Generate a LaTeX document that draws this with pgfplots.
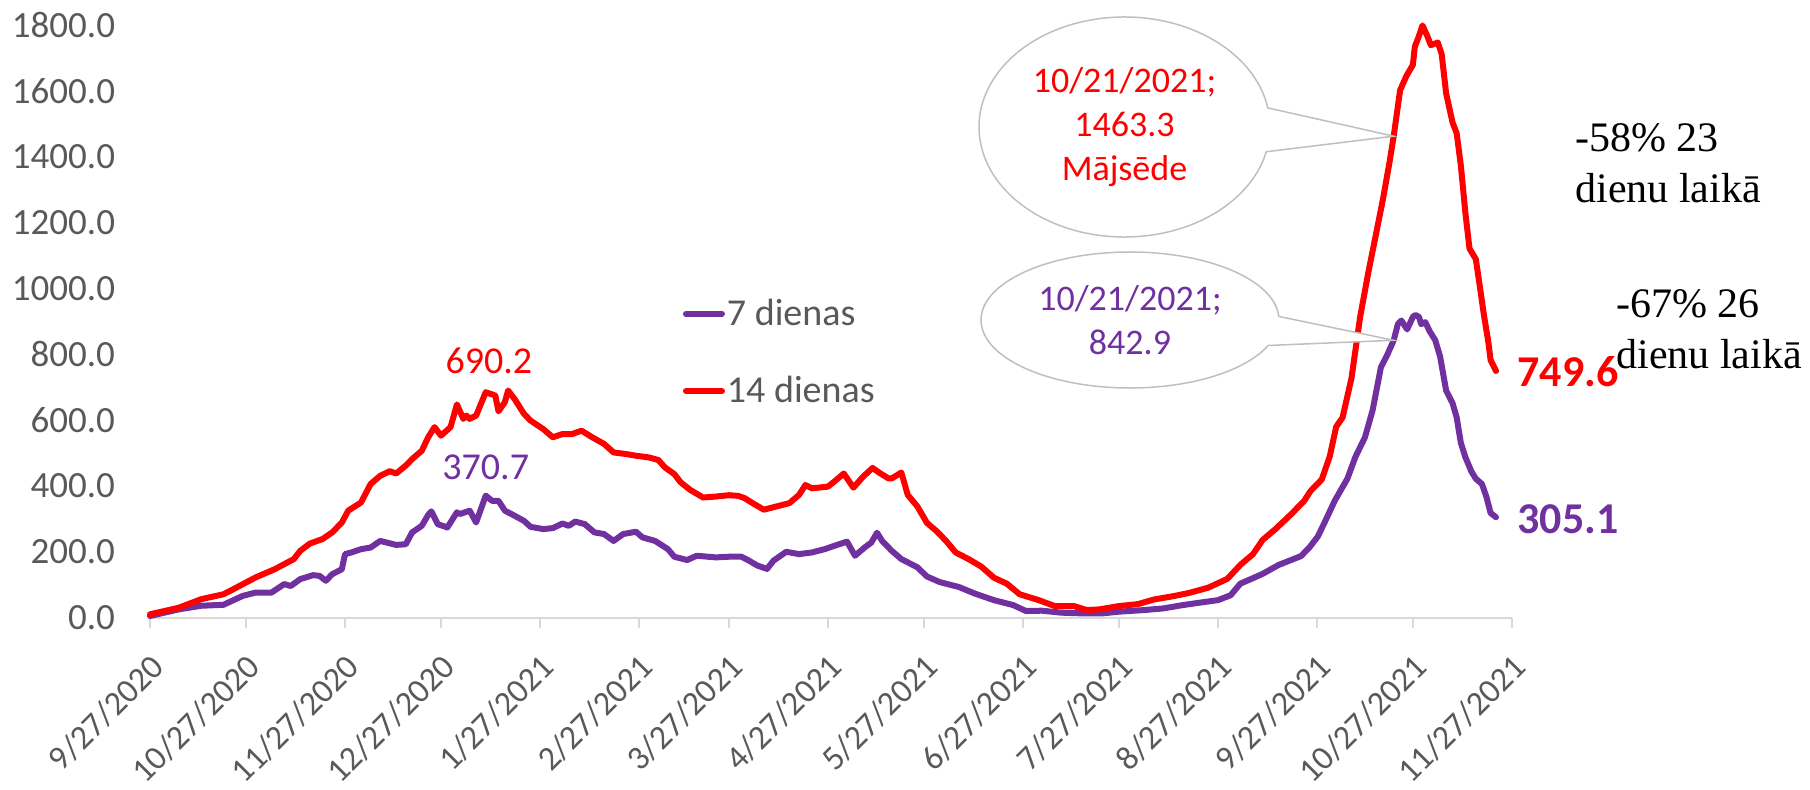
\documentclass[border=0pt]{standalone}
\usepackage{pgfplots}
\pgfplotsset{compat=1.18}
\usepackage{fontspec}
\setmainfont{Carlito}
\newfontfamily\tnr{Liberation Serif}
\definecolor{cred}{RGB}{255,0,0}
\definecolor{cpurp}{RGB}{112,48,160}
\definecolor{tickgray}{RGB}{89,89,89}
\definecolor{axgray}{RGB}{217,217,217}
\definecolor{callgray}{RGB}{191,191,191}
\begin{document}
\begin{tikzpicture}
\path[use as bounding box] (0,0) rectangle (905pt,394.5pt);
\begin{axis}[
  at={(75pt,85.7pt)}, anchor=south west,
  scale only axis, width=681pt, height=296.1pt,
  xmin=0, xmax=426, ymin=0, ymax=1800,
  clip=false,
  separate axis lines,
  axis x line*=bottom,
  axis y line*=left,
  y axis line style={draw=none},
  x axis line style={draw=axgray, line width=0.9pt},
  xtick={0,30,61,91,122,153,181,212,242,273,303,334,365,395,426},
  xticklabels={9/27/2020,10/27/2020,11/27/2020,12/27/2020,1/27/2021,2/27/2021,3/27/2021,4/27/2021,5/27/2021,6/27/2021,7/27/2021,8/27/2021,9/27/2021,10/27/2021,11/27/2021},
  ytick={0,200,...,1800},
  scaled y ticks=false,
  ytick style={draw=none},
  xtick style={draw=axgray, line width=0.9pt},
  xtick align=outside,
  major tick length=5pt,
  tick label style={text=tickgray},
  yticklabel style={font=\fontsize{18.5}{20}\selectfont, anchor=east, inner sep=0pt, xshift=-17.3pt,
    /pgf/number format/fixed, /pgf/number format/fixed zerofill,
    /pgf/number format/precision=1, /pgf/number format/1000 sep={},
    /pgf/number format/assume math mode=true},
  xticklabel style={font=\fontsize{17}{18}\selectfont, rotate=45, anchor=north east, inner sep=0pt, xshift=-8.8pt, yshift=-8.2pt},
  legend cell align=left,
  legend style={at={(0.391,0.4477)}, anchor=west, draw=none, fill=none, inner sep=0pt,
    font=\fontsize{19}{20}\selectfont, text=tickgray, row sep=22pt, nodes={inner sep=1pt}},
  legend image code/.code={\draw[#1, line width=3pt, line cap=round] (0pt,0pt) -- (18pt,0pt);},
]
\addplot[cpurp, line width=3pt, line join=round, line cap=round] coordinates {
(0,5)(9,25)(16,36)(23,39)(29,66)(33,76)(38,76)(42,102)(44,96)(47,117)(51,129)(53,127)(55,112)(57,132)(60,147)(61,193)(63,198)(66,208)(69,213)(72,233)(77,221)(80,223)(82,259)(85,279)(87,312)(88,323)(90,284)(93,274)(96,320)(97,315)(100,325)(102,289)(105,370.7)(107,355)(109,355)(111,325)(113,315)(117,294)(119,276)(123,269)(126,272)(129,286)(131,279)(133,292)(136,284)(139,259)(142,254)(145,233)(148,254)(152,261)(154,244)(158,233)(162,208)(164,185)(168,175)(171,188)(177,183)(181,185)(185,185)(187,175)(190,158)(193,148)(195,173)(199,200)(203,193)(207,198)(211,208)(214,218)(218,231)(220.5,188)(223.5,213)(225.6,228)(227.4,258)(229,233)(232,203)(235,178)(240,153)(243,125)(247,108)(253,93)(258,73)(264,53)(270,38)(274,20)(279,21)(285,15)(291,13)(298,13)(303,18)(311,23)(317,28)(323,38)(328,45)(334,53)(338,68)(341,103)(345,120)(348,133)(353,160)(360,187)(362.7,214)(365.3,247)(368,302)(370.6,356)(374.5,422)(377,488)(380,548)(382.4,630)(385,761)(387,799)(389,842.9)(390.3,892)(391.4,903)(393.2,876)(395,914)(395.8,920)(396.9,914)(397.6,892)(398.9,898)(400.2,871)(402,843)(403.5,794)(405.4,690)(407.4,652)(408.7,608)(410,531)(411.4,488)(413.3,444)(414.7,422)(416.6,406)(418,367)(419.3,318)(421,305.1)
};
\addlegendentry{7 dienas}
\addplot[cred, line width=3pt, line join=round, line cap=round] coordinates {
(0,10)(9,30)(16,56)(23,71)(26,86)(33,122)(39,147)(45,178)(47,203)(50,225)(54,239)(57,259)(60,289)(62,325)(66,350)(69,406)(72,431)(75,445)(77,438)(80,462)(82,482)(85,507)(87,548)(89,579)(91,553)(94,579)(96,648)(98,604)(99,614)(100,604)(102,614)(105,685)(108,675)(109,627)(111,655)(112,690.2)(114,665)(117,619)(119,599)(123,573)(126,548)(129,558)(132,558)(135,568)(138,550)(142,528)(145,502)(149,497)(152,492)(156,487)(159,479)(161,457)(164,436)(166,411)(169,388)(173,365)(177,368)(181,372)(184,370)(186,363)(189,345)(192,328)(196,338)(200,348)(203,373)(205,403)(207,393)(212,398)(214,413)(217,438)(220,395)(223,428)(226,455)(228,441)(231,423)(232,423)(235,441)(237,373)(240,338)(243,288)(246,263)(249,233)(252,198)(256,178)(260,155)(264,121)(268,103)(272,71)(278,53)(283,35)(289,35)(293,23)(297,25)(303,35)(309,41)(314,55)(320,65)(325,75)(331,91)(337,118)(341,160)(345,193)(348,236)(352,269)(357,315)(361,355)(363,385)(366.5,420)(369,490)(371,580)(373,608)(375.8,728)(378.5,914)(381,1046)(383.7,1177)(385.7,1275)(387.7,1385)(389,1463.3)(391,1603)(393,1647)(395,1680)(395.6,1735)(396.9,1768)(398,1800)(399.5,1768)(400.6,1740)(402.8,1748)(404,1713)(405.4,1593)(407.4,1505)(408.7,1472)(410,1374)(411.4,1232)(412.7,1122)(414.7,1089)(416,1002)(417.3,914)(418.6,838)(419.3,783)(421,749.6)
};
\addlegendentry{14 dienas}
\coordinate (tipR) at (axis cs:389,1463.3);
\coordinate (tipP) at (axis cs:389,842.9);
\node[cred, font=\fontsize{19}{20}\selectfont] at (axis cs:106,780) {690.2};
\node[cpurp, font=\fontsize{19}{20}\selectfont] at (axis cs:105,458) {370.7};
\end{axis}
% callout 1
\draw[callgray, line width=0.75pt, fill=white] (562.25pt,331pt) ++(10:72.75pt and 55pt)
  arc[start angle=10, end angle=347, x radius=72.75pt, y radius=55pt] -- (tipR) -- cycle;
\node[cred, align=center, font=\fontsize{18}{22}\selectfont] at (562.25pt,331pt) {10/21/2021;\\1463.3\\Mājsēde};
% callout 2
\draw[callgray, line width=0.75pt, fill=white] (565pt,234.5pt) ++(3:74.5pt and 34pt)
  arc[start angle=3, end angle=338, x radius=74.5pt, y radius=34pt] -- (tipP) -- cycle;
\node[cpurp, align=center, font=\fontsize{18}{22}\selectfont] at (565pt,234.5pt) {10/21/2021;\\842.9};
% end labels
\node[cred, anchor=base west, inner sep=0pt, font=\bfseries\fontsize{22}{24}\selectfont] at (758.5pt,201.5pt) {749.6};
\node[cpurp, anchor=base west, inner sep=0pt, font=\bfseries\fontsize{22}{24}\selectfont] at (758.5pt,128pt) {305.1};
% annotations
\node[anchor=base west, inner sep=0pt, font=\tnr\fontsize{21}{24}\selectfont] at (787.5pt,318.5pt) {-58\% 23};
\node[anchor=base west, inner sep=0pt, font=\tnr\fontsize{21}{24}\selectfont] at (787.5pt,293.5pt) {dienu laikā};
\node[anchor=base west, inner sep=0pt, font=\tnr\fontsize{21}{24}\selectfont] at (808pt,236pt) {-67\% 26};
\node[anchor=base west, inner sep=0pt, font=\tnr\fontsize{21}{24}\selectfont] at (808pt,210.5pt) {dienu laikā};
\end{tikzpicture}
\end{document}
